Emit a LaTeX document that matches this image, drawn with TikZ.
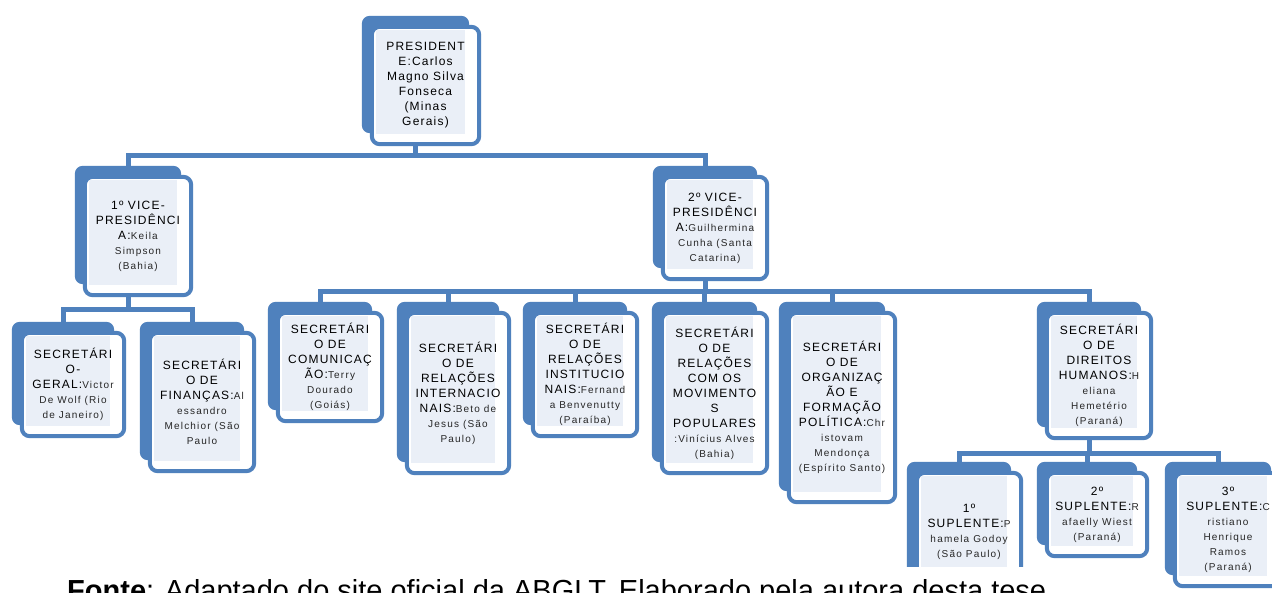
\documentclass[tikz,border=0pt]{standalone}
\usepackage{fontspec}
\setmainfont{Liberation Sans}
\newfontfamily\capf[LetterSpace=10]{Liberation Sans}
\newfontfamily\nmf[LetterSpace=12]{Liberation Sans}
\usetikzlibrary{calc}
\pgfdeclarelayer{paper}
\pgfdeclarelayer{connlayer}
\pgfdeclarelayer{boxlayer}
\pgfsetlayers{paper,connlayer,boxlayer,main}
\definecolor{boxblue}{RGB}{79,129,189}
\definecolor{innerfill}{RGB}{234,239,247}
\newcommand{\nm}[1]{{\nmf\fontsize{10}{15}\selectfont\color{black!85}#1}}
\tikzset{
  boxtext/.style={rectangle, inner sep=0pt, align=center, font=\capf\fontsize{12}{15}\selectfont},
  conn/.style={draw=boxblue, line width=5pt},
  backbox/.style={fill=boxblue, rounded corners=8pt},
  frontbox/.style={fill=white, draw=boxblue, line width=4pt, rounded corners=8pt},
  innerbox/.style={fill=innerfill},
}
% #1 name, #2 x1, #3 y1, #4 x2, #5 y2, #6 text
\newcommand{\orgbox}[6]{%
  \node[boxtext, minimum width=#4pt-#2pt, minimum height=#5pt-#3pt] (#1) at ({(#2+#4)/2},{(#3+#5)/2}) {#6};
  \begin{pgfonlayer}{boxlayer}
    \path[backbox] ([shift={(-10,-11)}]#1.north west) rectangle ([shift={(-10,-11)}]#1.south east);
    \path[frontbox] (#1.north west) rectangle (#1.south east);
    \path[innerbox] ([shift={(4,3)}]#1.north west) rectangle ([shift={(-14,-10)}]#1.south east);
  \end{pgfonlayer}
  \coordinate (#1-n) at ([shift={(-10,-11)}]#1.north);
  \coordinate (#1-s) at ([shift={(-10,0)}]#1.south);
}
\begin{document}
\begin{tikzpicture}[x=1pt,y=-1pt]
\useasboundingbox (0,0) rectangle (1272,592);
\begin{pgfonlayer}{paper}
  \fill[white] (0,0) rectangle (1272,592);
\end{pgfonlayer}

\orgbox{pres}{372}{27}{479}{144}{PRESIDENT\\E:Carlos\\Magno Silva\\Fonseca\\(Minas\\Gerais)}
\orgbox{vp1}{85}{177}{191}{295}{1º VICE-\\PRESIDÊNCI\\A:\nm{Keila}\\\nm{Simpson}\\\nm{(Bahia)}}
\orgbox{vp2}{663}{177}{767}{279}{2º VICE-\\PRESIDÊNCI\\A:\nm{Guilhermina}\\\nm{Cunha (Santa}\\\nm{Catarina)}}
\orgbox{geral}{22}{333}{124}{436}{SECRETÁRI\\O-\\GERAL:\nm{Victor}\\\nm{De Wolf (Rio}\\\nm{de Janeiro)}}
\orgbox{fin}{150}{333}{254}{471}{SECRETÁRI\\O DE\\FINANÇAS:\nm{Al}\\\nm{essandro}\\\nm{Melchior (São}\\\nm{Paulo}}
\orgbox{com}{278}{313}{382}{421}{SECRETÁRI\\O DE\\COMUNICAÇ\\ÃO:\nm{Terry}\\\nm{Dourado}\\\nm{(Goiás)}}
\orgbox{int}{407}{313}{509}{473}{SECRETÁRI\\O DE\\RELAÇÕES\\INTERNACIO\\NAIS:\nm{Beto de}\\\nm{Jesus (São}\\\nm{Paulo)}}
\orgbox{inst}{533}{313}{637}{436}{SECRETÁRI\\O DE\\RELAÇÕES\\INSTITUCIO\\NAIS:\nm{Fernand}\\\nm{a Benvenutty}\\\nm{(Paraíba)}}
\orgbox{mov}{662}{313}{767}{473}{SECRETÁRI\\O DE\\RELAÇÕES\\COM OS\\MOVIMENTO\\S\\POPULARES\\\nm{:Vinícius Alves}\\\nm{(Bahia)}}
\orgbox{org}{789}{313}{895}{502}{SECRETÁRI\\O DE\\ORGANIZAÇ\\ÃO E\\FORMAÇÃO\\POLÍTICA:\nm{Chr}\\\nm{istovam}\\\nm{Mendonça}\\\nm{(Espírito Santo)}}
\orgbox{dh}{1047}{313}{1151}{438}{SECRETÁRI\\O DE\\DIREITOS\\HUMANOS:\nm{H}\\\nm{eliana}\\\nm{Hemetério}\\\nm{(Paraná)}}
\orgbox{sa}{917}{473}{1021}{590}{1º\\SUPLENTE:\nm{P}\\\nm{hamela Godoy}\\\nm{(São Paulo)}}
\orgbox{sb}{1047}{473}{1147}{556}{2º\\SUPLENTE:\nm{R}\\\nm{afaelly Wiest}\\\nm{(Paraná)}}
\orgbox{sc}{1175}{473}{1281}{586}{3º\\SUPLENTE:\nm{C}\\\nm{ristiano}\\\nm{Henrique}\\\nm{Ramos}\\\nm{(Paraná)}}

\coordinate (busP) at (0,155);
\coordinate (busA) at (0,309);
\coordinate (busB) at (0,291);
\coordinate (busC) at (0,453);
\begin{pgfonlayer}{connlayer}
  \draw[conn] (pres-s) -- (pres-s |- busP) -| (vp1-n);
  \draw[conn] (pres-s |- busP) -| (vp2-n);
  \draw[conn] (vp1-s) -- (vp1-s |- busA) -| (geral-n);
  \draw[conn] (vp1-s |- busA) -| (fin-n);
  \draw[conn] (vp2-s) -- (vp2-s |- busB) -| (com-n);
  \draw[conn] (vp2-s |- busB) -| (int-n);
  \draw[conn] (vp2-s |- busB) -| (inst-n);
  \draw[conn] (vp2-s |- busB) -| (mov-n);
  \draw[conn] (vp2-s |- busB) -| (org-n);
  \draw[conn] (vp2-s |- busB) -| (dh-n);
  \draw[conn] (dh-s) -- (dh-s |- busC) -| (sa-n);
  \draw[conn] (dh-s |- busC) -| (sb-n);
  \draw[conn] (dh-s |- busC) -| (sc-n);
\end{pgfonlayer}

\fill[white] (0,567) rectangle (1163,600);
\node[anchor=base west, inner sep=0pt, font=\fontsize{29}{34}\selectfont] (caption) at (67,600) {\textbf{Fonte}: Adaptado do site oficial da ABGLT. Elaborado pela autora desta tese.};
\end{tikzpicture}
\end{document}
